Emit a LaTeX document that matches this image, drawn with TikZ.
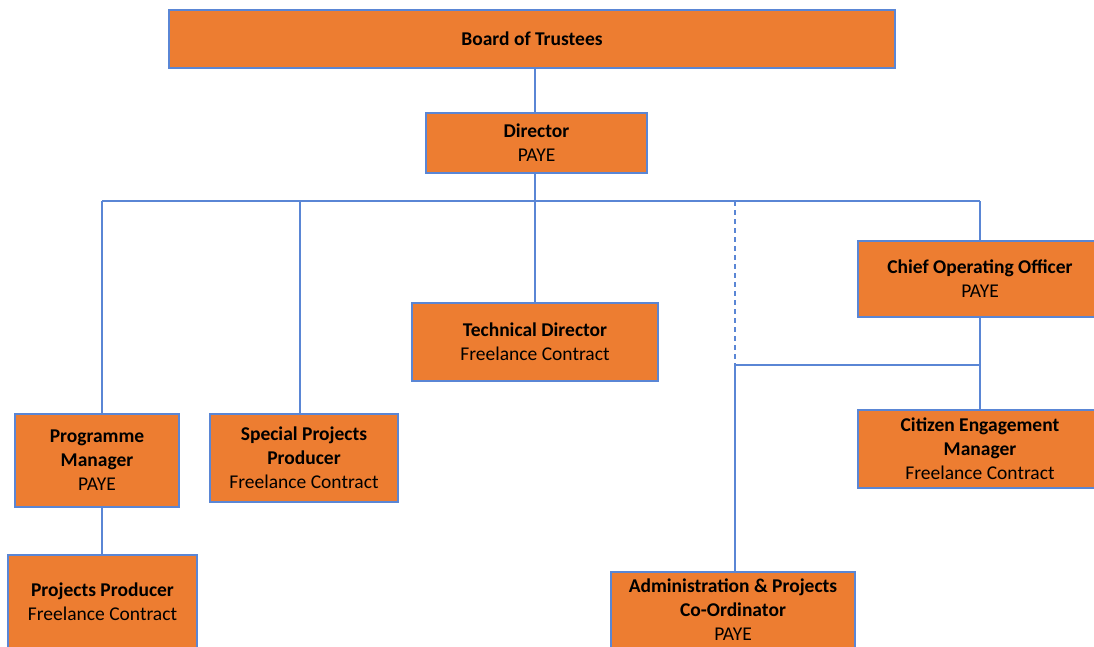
\documentclass[tikz,border=0pt]{standalone}
\usepackage{fontspec}
\setmainfont{Carlito}
\definecolor{boxorange}{HTML}{ED7D31}
\definecolor{linkblue}{HTML}{5A86D5}
\begin{document}
\begin{tikzpicture}[x=1pt, y=-1pt]
  % Define box and connector style
  \tikzstyle{orgbox} = [draw=linkblue, fill=boxorange, line width=1.4pt,
  rectangle, inner sep=0pt, align=center, text=black,
  font=\fontsize{19.5}{24}\selectfont]
  \tikzstyle{orgline} = [draw=linkblue, line width=1.4pt]

  \useasboundingbox (0,0) rectangle (1094,646);
  \clip (0,0) rectangle (1094,646);

  % Top of the tree
  \node [orgbox, minimum width=726pt, minimum height=58pt] (board) at (532,39)
    {\textbf{Board of Trustees}};
  \node [orgbox, minimum width=221pt, minimum height=60pt] (director) at (536.5,143)
    {\textbf{Director}\\PAYE};

  % Second level
  \node [orgbox, minimum width=164pt, minimum height=93pt] (progman) at (97,460.5)
    {\textbf{Programme}\\\textbf{Manager}\\PAYE};
  \node [orgbox, minimum width=188pt, minimum height=88pt] (specprod) at (304,458)
    {\textbf{Special Projects}\\\textbf{Producer}\\Freelance Contract};
  \node [orgbox, minimum width=246pt, minimum height=78pt] (techdir) at (535,342)
    {\textbf{Technical Director}\\Freelance Contract};
  \node [orgbox, minimum width=244pt, minimum height=76pt] (coo) at (980,279)
    {\textbf{Chief Operating Officer}\\PAYE};

  % Third level
  \node [orgbox, minimum width=189pt, minimum height=94pt] (projprod) at (102.5,602)
    {\textbf{Projects Producer}\\Freelance Contract};
  \node [orgbox, minimum width=244pt, minimum height=78pt] (citizen) at (980,449)
    {\textbf{Citizen Engagement}\\\textbf{Manager}\\Freelance Contract};
  \node [orgbox, minimum width=244pt, minimum height=76pt] (admin) at (733,610)
    {\textbf{Administration \& Projects}\\\textbf{Co-Ordinator}\\PAYE};

  % Bus and junction points
  \coordinate (trunk) at (535,201);
  \coordinate (busL) at (102,201);
  \coordinate (busR) at (980,201);
  \coordinate (dashtop) at (735,201);
  \coordinate (opsjoin) at (735,365);

  % Connectors
  \draw [orgline] (board.south -| trunk) -- (director.north -| trunk);
  \draw [orgline] (director.south -| trunk) -- (trunk);
  \draw [orgline] (busL) -- (busR);
  \draw [orgline] (busL) -- (busL |- progman.north);
  \draw [orgline] (300,201) -- (300,414);
  \draw [orgline] (trunk) -- (techdir.north -| trunk);
  \draw [orgline] (busR) -- (coo.north);
  \draw [orgline, dash pattern=on 5pt off 4pt] (dashtop) -- (opsjoin);
  \draw [orgline] (coo.south) -- (citizen.north);
  \draw [orgline] (opsjoin) -- (opsjoin -| coo.south);
  \draw [orgline] (opsjoin) -- (opsjoin |- admin.north);
  \draw [orgline] (progman.south -| busL) -- (projprod.north -| busL);
\end{tikzpicture}
\end{document}
